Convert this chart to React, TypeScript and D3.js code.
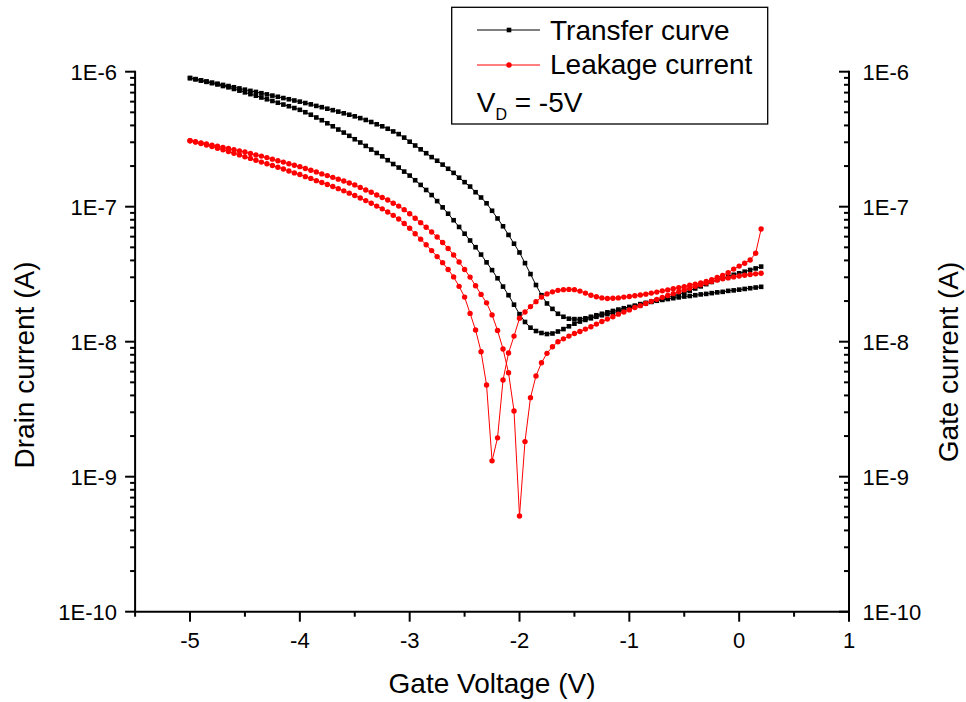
import React from 'react';
import * as d3 from 'd3';

// Gate sweep: -5 V to +0.2 V in 0.05 V steps (105 points per sweep)
const sweepStart = -5;
const sweepStep = 0.05;

// Drain current (A), sweep with the higher current on the negative side
const drainCurrentA = [
  8.97e-7, 8.81e-7, 8.63e-7, 8.47e-7, 8.30e-7, 8.15e-7, 7.98e-7, 7.83e-7, 7.67e-7, 7.52e-7,
  7.36e-7, 7.21e-7, 7.08e-7, 6.93e-7, 6.79e-7, 6.65e-7, 6.52e-7, 6.38e-7, 6.25e-7, 6.12e-7,
  6.00e-7, 5.86e-7, 5.73e-7, 5.58e-7, 5.46e-7, 5.32e-7, 5.19e-7, 5.06e-7, 4.92e-7, 4.80e-7,
  4.67e-7, 4.53e-7, 4.39e-7, 4.24e-7, 4.08e-7, 3.94e-7, 3.78e-7, 3.61e-7, 3.45e-7, 3.25e-7,
  3.03e-7, 2.84e-7, 2.66e-7, 2.49e-7, 2.33e-7, 2.19e-7, 2.05e-7, 1.91e-7, 1.78e-7, 1.64e-7,
  1.52e-7, 1.41e-7, 1.28e-7, 1.17e-7, 1.06e-7, 9.33e-8, 8.18e-8, 7.16e-8, 6.18e-8, 5.32e-8,
  4.58e-8, 3.82e-8, 3.17e-8, 2.63e-8, 2.21e-8, 1.92e-8, 1.75e-8, 1.61e-8, 1.53e-8, 1.48e-8,
  1.47e-8, 1.47e-8, 1.49e-8, 1.53e-8, 1.57e-8, 1.61e-8, 1.65e-8, 1.69e-8, 1.73e-8, 1.77e-8,
  1.81e-8, 1.85e-8, 1.90e-8, 1.94e-8, 1.98e-8, 2.01e-8, 2.04e-8, 2.07e-8, 2.10e-8, 2.13e-8,
  2.16e-8, 2.18e-8, 2.21e-8, 2.24e-8, 2.26e-8, 2.29e-8, 2.32e-8, 2.34e-8, 2.38e-8, 2.40e-8,
  2.43e-8, 2.46e-8, 2.49e-8, 2.52e-8, 2.55e-8,
];

// Drain current (A), the other sweep direction
const drainCurrentB = [
  8.97e-7, 8.79e-7, 8.59e-7, 8.41e-7, 8.22e-7, 8.04e-7, 7.83e-7, 7.66e-7, 7.45e-7, 7.24e-7,
  7.03e-7, 6.82e-7, 6.64e-7, 6.44e-7, 6.25e-7, 6.07e-7, 5.89e-7, 5.71e-7, 5.55e-7, 5.38e-7,
  5.22e-7, 5.01e-7, 4.80e-7, 4.58e-7, 4.37e-7, 4.15e-7, 3.94e-7, 3.73e-7, 3.54e-7, 3.35e-7,
  3.16e-7, 2.99e-7, 2.82e-7, 2.65e-7, 2.50e-7, 2.36e-7, 2.21e-7, 2.07e-7, 1.95e-7, 1.82e-7,
  1.70e-7, 1.57e-7, 1.45e-7, 1.33e-7, 1.22e-7, 1.10e-7, 9.89e-8, 8.87e-8, 7.94e-8, 7.08e-8,
  6.31e-8, 5.62e-8, 5.01e-8, 4.42e-8, 3.87e-8, 3.39e-8, 2.95e-8, 2.56e-8, 2.21e-8, 1.88e-8,
  1.60e-8, 1.40e-8, 1.27e-8, 1.20e-8, 1.16e-8, 1.14e-8, 1.15e-8, 1.19e-8, 1.24e-8, 1.30e-8,
  1.36e-8, 1.41e-8, 1.45e-8, 1.49e-8, 1.53e-8, 1.57e-8, 1.60e-8, 1.64e-8, 1.68e-8, 1.72e-8,
  1.77e-8, 1.82e-8, 1.87e-8, 1.92e-8, 1.97e-8, 2.02e-8, 2.07e-8, 2.13e-8, 2.18e-8, 2.24e-8,
  2.30e-8, 2.39e-8, 2.48e-8, 2.57e-8, 2.67e-8, 2.77e-8, 2.87e-8, 2.96e-8, 3.04e-8, 3.13e-8,
  3.21e-8, 3.30e-8, 3.40e-8, 3.49e-8, 3.60e-8,
];

// Gate leakage current (A), sweep with the deeper minimum near -2 V
const gateCurrentA = [
  3.08e-7, 3.03e-7, 2.97e-7, 2.92e-7, 2.86e-7, 2.81e-7, 2.75e-7, 2.70e-7, 2.64e-7, 2.59e-7,
  2.54e-7, 2.48e-7, 2.42e-7, 2.37e-7, 2.31e-7, 2.25e-7, 2.19e-7, 2.14e-7, 2.08e-7, 2.03e-7,
  1.98e-7, 1.92e-7, 1.86e-7, 1.81e-7, 1.75e-7, 1.70e-7, 1.65e-7, 1.60e-7, 1.55e-7, 1.50e-7,
  1.45e-7, 1.39e-7, 1.33e-7, 1.28e-7, 1.22e-7, 1.17e-7, 1.12e-7, 1.06e-7, 1.01e-7, 9.51e-8,
  8.87e-8, 8.22e-8, 7.62e-8, 7.05e-8, 6.50e-8, 5.97e-8, 5.43e-8, 4.90e-8, 4.39e-8, 3.89e-8,
  3.43e-8, 3.01e-8, 2.60e-8, 2.24e-8, 1.94e-8, 1.58e-8, 1.21e-8, 8.83e-9, 5.89e-9, 3.07e-9,
  5.12e-10, 1.82e-9, 3.85e-9, 5.57e-9, 6.98e-9, 8.20e-9, 9.18e-9, 1.00e-8, 1.05e-8, 1.10e-8,
  1.15e-8, 1.19e-8, 1.24e-8, 1.29e-8, 1.35e-8, 1.41e-8, 1.47e-8, 1.53e-8, 1.60e-8, 1.66e-8,
  1.72e-8, 1.79e-8, 1.85e-8, 1.92e-8, 1.99e-8, 2.06e-8, 2.13e-8, 2.20e-8, 2.27e-8, 2.34e-8,
  2.42e-8, 2.49e-8, 2.57e-8, 2.64e-8, 2.72e-8, 2.79e-8, 2.86e-8, 2.92e-8, 2.97e-8, 3.02e-8,
  3.07e-8, 3.11e-8, 3.15e-8, 3.18e-8, 3.21e-8,
];

// Gate leakage current (A), sweep with the minimum near -2.25 V and the hump
const gateCurrentB = [
  3.08e-7, 3.01e-7, 2.94e-7, 2.86e-7, 2.79e-7, 2.71e-7, 2.64e-7, 2.56e-7, 2.49e-7, 2.42e-7,
  2.34e-7, 2.28e-7, 2.21e-7, 2.14e-7, 2.08e-7, 2.02e-7, 1.96e-7, 1.90e-7, 1.84e-7, 1.78e-7,
  1.73e-7, 1.67e-7, 1.62e-7, 1.56e-7, 1.51e-7, 1.46e-7, 1.41e-7, 1.36e-7, 1.31e-7, 1.26e-7,
  1.21e-7, 1.16e-7, 1.11e-7, 1.06e-7, 1.01e-7, 9.64e-8, 9.14e-8, 8.63e-8, 8.11e-8, 7.50e-8,
  6.92e-8, 6.31e-8, 5.75e-8, 5.22e-8, 4.73e-8, 4.27e-8, 3.85e-8, 3.43e-8, 3.02e-8, 2.57e-8,
  2.14e-8, 1.62e-8, 1.22e-8, 8.43e-9, 4.78e-9, 1.31e-9, 1.94e-9, 5.20e-9, 8.24e-9, 1.10e-8,
  1.49e-8, 1.66e-8, 1.82e-8, 1.98e-8, 2.14e-8, 2.26e-8, 2.34e-8, 2.40e-8, 2.43e-8, 2.44e-8,
  2.43e-8, 2.37e-8, 2.29e-8, 2.21e-8, 2.15e-8, 2.11e-8, 2.09e-8, 2.10e-8, 2.11e-8, 2.14e-8,
  2.16e-8, 2.19e-8, 2.22e-8, 2.25e-8, 2.29e-8, 2.33e-8, 2.38e-8, 2.42e-8, 2.47e-8, 2.51e-8,
  2.56e-8, 2.62e-8, 2.67e-8, 2.72e-8, 2.79e-8, 2.88e-8, 2.99e-8, 3.10e-8, 3.24e-8, 3.45e-8,
  3.63e-8, 3.81e-8, 4.03e-8, 4.52e-8, 6.84e-8,
];

const xTickValues = [-5, -4, -3, -2, -1, 0, 1];
const xTickLabels = ['-5', '-4', '-3', '-2', '-1', '0', '1'];
const yDecades = [1e-6, 1e-7, 1e-8, 1e-9, 1e-10];
const yTickLabels = ['1E-6', '1E-7', '1E-8', '1E-9', '1E-10'];
const legendLabels = ['Transfer curve', 'Leakage current'];

const FONT = '"Liberation Sans", Arial, Helvetica, sans-serif';
const RED = '#ff0000';
const BLACK = '#000000';

type Pt = [number, number];

const toPoints = (vals: number[]): Pt[] =>
  vals.map((v, i) => [sweepStart + i * sweepStep, v] as Pt);

export default function App() {
  const W = 966;
  const H = 702;
  const left = 135.1;
  const right = 849;
  const top = 71.7;
  const bottom = 611.7;

  const x = d3.scaleLinear().domain([-5.5, 1]).range([left, right]);
  const y = d3.scaleLog().domain([1e-10, 1e-6]).range([bottom, top]);

  const line = d3
    .line<Pt>()
    .x((d) => x(d[0]))
    .y((d) => y(d[1]));

  const allY = y.ticks();
  const isDecade = (v: number) => Math.abs(Math.log10(v) - Math.round(Math.log10(v))) < 1e-6;
  const minorY = allY.filter((v) => !isDecade(v));
  const minorX = x.ticks(14).filter((v) => Math.abs(v - Math.round(v)) > 1e-6);

  const drainSeries = [toPoints(drainCurrentA), toPoints(drainCurrentB)];
  const gateSeries = [toPoints(gateCurrentA), toPoints(gateCurrentB)];

  const sq = 4.6;
  const axisW = 2;

  return (
    <svg
      width={W}
      height={H}
      viewBox={`0 0 ${W} ${H}`}
      style={{ position: 'absolute', left: 0, top: 0, background: '#fff' }}
      fontFamily={FONT}
    >
      <rect x={0} y={0} width={W} height={H} fill="#fff" />

      {/* data: drain current (black squares) */}
      {drainSeries.map((pts, si) => (
        <g key={`d${si}`}>
          <path d={line(pts) || ''} fill="none" stroke={BLACK} strokeWidth={1} />
          {pts.map((p, i) => (
            <rect
              key={i}
              x={x(p[0]) - sq / 2}
              y={y(p[1]) - sq / 2}
              width={sq}
              height={sq}
              fill={BLACK}
            />
          ))}
        </g>
      ))}

      {/* data: gate leakage current (red circles) */}
      {gateSeries.map((pts, si) => (
        <g key={`g${si}`}>
          <path d={line(pts) || ''} fill="none" stroke={RED} strokeWidth={1} />
          {pts.map((p, i) => (
            <circle key={i} cx={x(p[0])} cy={y(p[1])} r={2.7} fill={RED} />
          ))}
        </g>
      ))}

      {/* axes lines */}
      <g stroke={BLACK} strokeWidth={axisW} fill="none" strokeLinecap="square">
        <line x1={left} y1={top} x2={left} y2={bottom} />
        <line x1={right} y1={top} x2={right} y2={bottom} />
        <line x1={left} y1={bottom} x2={right} y2={bottom} />
      </g>

      {/* left axis ticks (outward) */}
      <g stroke={BLACK} strokeWidth={axisW}>
        {yDecades.map((v) => (
          <line key={`lM${v}`} x1={left - 10} x2={left} y1={y(v)} y2={y(v)} />
        ))}
        {minorY.map((v) => (
          <line key={`lm${v}`} x1={left - 5} x2={left} y1={y(v)} y2={y(v)} />
        ))}
        {/* right axis ticks (pointing into the plot) */}
        {yDecades.map((v) => (
          <line key={`rM${v}`} x1={right - 10} x2={right} y1={y(v)} y2={y(v)} />
        ))}
        {minorY.map((v) => (
          <line key={`rm${v}`} x1={right - 5} x2={right} y1={y(v)} y2={y(v)} />
        ))}
        {/* bottom axis ticks */}
        {xTickValues.map((v) => (
          <line key={`bM${v}`} x1={x(v)} x2={x(v)} y1={bottom} y2={bottom + 10} />
        ))}
        {minorX.map((v) => (
          <line key={`bm${v}`} x1={x(v)} x2={x(v)} y1={bottom} y2={bottom + 5} />
        ))}
      </g>

      {/* tick labels */}
      <g fontSize={22} fill={BLACK}>
        {yDecades.map((v, i) => (
          <text key={`ll${v}`} x={117} y={y(v) + 8} textAnchor="end">
            {yTickLabels[i]}
          </text>
        ))}
        {yDecades.map((v, i) => (
          <text key={`rl${v}`} x={862.5} y={y(v) + 8} textAnchor="start">
            {yTickLabels[i]}
          </text>
        ))}
        {xTickValues.map((v, i) => (
          <text key={`bl${v}`} x={x(v)} y={648} textAnchor="middle">
            {xTickLabels[i]}
          </text>
        ))}
      </g>

      {/* axis titles */}
      <g fontSize={28} fill={BLACK}>
        <text x={(left + right) / 2} y={693} textAnchor="middle">
          Gate Voltage (V)
        </text>
        <text transform="translate(33.5,365) rotate(-90)" textAnchor="middle">
          Drain current (A)
        </text>
        <text transform="translate(958,362) rotate(-90)" textAnchor="middle">
          Gate current (A)
        </text>
      </g>

      {/* legend */}
      <g>
        <rect x={451.7} y={7.3} width={316} height={116.7} fill="#fff" stroke={BLACK} strokeWidth={1.3} />
        <line x1={477} x2={540} y1={30} y2={30} stroke={BLACK} strokeWidth={1} />
        <rect x={509 - sq / 2} y={30 - sq / 2} width={sq} height={sq} fill={BLACK} />
        <text x={550} y={39.5} fontSize={28} fill={BLACK}>
          {legendLabels[0]}
        </text>
        <line x1={477} x2={540} y1={65} y2={65} stroke={RED} strokeWidth={1} />
        <circle cx={509} cy={65} r={2.7} fill={RED} />
        <text x={550} y={74} fontSize={28} fill={BLACK}>
          {legendLabels[1]}
        </text>
        <text x={476.7} y={111.7} fontSize={28} fill={BLACK}>
          V
          <tspan dy={8} fontSize={16}>
            D
          </tspan>
          <tspan dy={-8} fontSize={28}>
            {' = -5V'}
          </tspan>
        </text>
      </g>
    </svg>
  );
}
